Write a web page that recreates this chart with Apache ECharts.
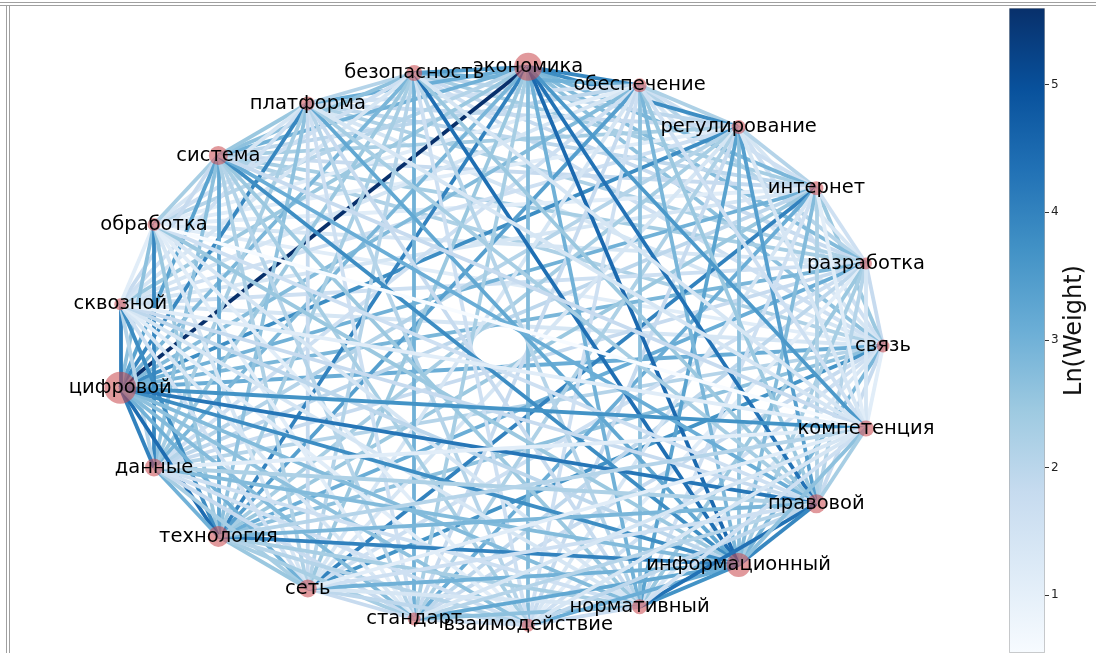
<!DOCTYPE html>
<html>
<head>
<meta charset="utf-8">
<script src="https://cdn.jsdelivr.net/npm/echarts@6/dist/echarts.min.js"></script>
<style>
  html, body { margin: 0; padding: 0; background: #fff; }
  #main { width: 1096px; height: 653px; }
</style>
</head>
<body>
<div id="main"></div>
<script>
// words in the order of the circular layout (counter-clockwise from the right)
var words = ['связь', 'разработка', 'интернет', 'регулирование', 'обеспечение',
  'экономика', 'безопасность', 'платформа', 'система', 'обработка', 'сквозной',
  'цифровой', 'данные', 'технология', 'сеть', 'стандарт', 'взаимодействие',
  'нормативный', 'информационный', 'правовой', 'компетенция'];

// node frequency (marker area)
var nodeFreq = [169, 144, 196, 196, 196, 784, 256, 196, 361, 169, 144,
  1024, 324, 441, 324, 169, 169, 225, 576, 361, 256];

// co-occurrence weights, row i = pairs (i, i+1 .. 20)
var weightRows = [
  [6, 12, 5, 4, 14, 5, 4, 9, 3, 4, 22, 8, 14, 40, 6, 5, 4, 18, 6, 3],
  [5, 4, 8, 16, 6, 9, 10, 4, 5, 18, 6, 22, 5, 7, 3, 12, 10, 8, 4],
  [8, 5, 18, 10, 7, 6, 3, 4, 20, 7, 12, 55, 22, 4, 5, 16, 9, 3],
  [9, 45, 7, 6, 10, 3, 5, 45, 8, 10, 4, 9, 6, 28, 14, 30, 4],
  [50, 20, 5, 7, 3, 4, 16, 5, 30, 4, 6, 5, 14, 18, 12, 5],
  [30, 22, 20, 8, 12, 270, 18, 55, 12, 10, 16, 20, 90, 75, 35],
  [8, 14, 5, 4, 18, 12, 10, 8, 20, 5, 8, 80, 12, 4],
  [12, 4, 5, 50, 10, 14, 6, 5, 8, 6, 25, 10, 4],
  [10, 6, 28, 14, 25, 9, 8, 10, 12, 45, 22, 6],
  [3, 14, 50, 12, 4, 3, 3, 4, 12, 5, 1.73],
  [60, 8, 45, 5, 4, 3, 4, 7, 6, 3],
  [55, 85, 20, 16, 14, 16, 45, 70, 40],
  [20, 10, 6, 5, 5, 16, 9, 3],
  [12, 10, 8, 10, 55, 18, 8],
  [6, 7, 4, 20, 5, 3],
  [5, 14, 25, 8, 4],
  [6, 22, 7, 4],
  [40, 75, 5],
  [50, 14],
  [10]
];

var colorbarTicks = [1, 2, 3, 4, 5];

// matplotlib "Blues"
var bluesStops = ['#f7fbff', '#deebf7', '#c6dbef', '#9ecae1', '#6baed6',
  '#4292c6', '#2171b5', '#08519c', '#08306b'];

function hexRgb(h) {
  return [parseInt(h.substr(1, 2), 16), parseInt(h.substr(3, 2), 16), parseInt(h.substr(5, 2), 16)];
}
function blues(t) {
  t = Math.max(0, Math.min(1, t));
  var p = t * (bluesStops.length - 1);
  var i = Math.min(Math.floor(p), bluesStops.length - 2);
  var f = p - i;
  var a = hexRgb(bluesStops[i]), b = hexRgb(bluesStops[i + 1]);
  var c = a.map(function (v, k) { return Math.round(v + (b[k] - v) * f); });
  return 'rgb(' + c.join(',') + ')';
}

var links = [];
var lnMin = Infinity, lnMax = -Infinity;
weightRows.forEach(function (row, i) {
  row.forEach(function (w, k) {
    var lw = Math.log(w);
    lnMin = Math.min(lnMin, lw);
    lnMax = Math.max(lnMax, lw);
    links.push({ source: i, target: i + 1 + k, lw: lw });
  });
});
links.forEach(function (l) {
  l.lineStyle = { color: blues((l.lw - lnMin) / (lnMax - lnMin)) };
});

var n = words.length;
var nodes = words.map(function (name, i) {
  var a = 2 * Math.PI * i / n;
  return {
    name: name,
    value: [Math.cos(a), Math.sin(a)],
    symbolSize: Math.sqrt(nodeFreq[i])
  };
});

var myChart = echarts.init(document.getElementById('main'));

var gradStops = bluesStops.map(function (c, i) {
  return { offset: 1 - i / (bluesStops.length - 1), color: c };
});

var option = {
  backgroundColor: '#fff',
  animation: false,
  textStyle: { fontFamily: 'DejaVu Sans' },
  grid: [
    { left: 116, width: 767, top: 66, height: 560 },
    { left: 1009, width: 36, top: 8, height: 646 }
  ],
  xAxis: [
    { gridIndex: 0, type: 'value', min: -1, max: 1, show: false },
    { gridIndex: 1, type: 'category', data: [''], show: false }
  ],
  yAxis: [
    { gridIndex: 0, type: 'value', min: -1, max: 1, show: false },
    {
      gridIndex: 1, type: 'value', position: 'right',
      min: lnMin, max: lnMax,
      axisLine: { show: false },
      splitLine: { show: false },
      axisTick: { show: true, length: 4, customValues: colorbarTicks, lineStyle: { color: '#333' } },
      axisLabel: { customValues: colorbarTicks, fontSize: 12, color: '#222', margin: 6 },
      name: 'Ln(Weight)', nameLocation: 'middle', nameRotate: 90, nameGap: 18,
      nameTextStyle: { fontSize: 24, color: '#111' }
    }
  ],
  graphic: [
    { type: 'line', shape: { x1: 0, y1: 2.5, x2: 1096, y2: 2.5 }, style: { stroke: '#a0a0a0', lineWidth: 1 } },
    { type: 'line', shape: { x1: 0, y1: 5.5, x2: 1096, y2: 5.5 }, style: { stroke: '#a0a0a0', lineWidth: 1 } },
    { type: 'line', shape: { x1: 6.5, y1: 5, x2: 6.5, y2: 653 }, style: { stroke: '#a0a0a0', lineWidth: 1 } },
    { type: 'line', shape: { x1: 9.5, y1: 5, x2: 9.5, y2: 653 }, style: { stroke: '#a0a0a0', lineWidth: 1 } }
  ],
  series: [
    {
      type: 'graph',
      layout: 'none',
      coordinateSystem: 'cartesian2d',
      xAxisIndex: 0,
      yAxisIndex: 0,
      silent: true,
      data: nodes,
      links: links,
      itemStyle: { color: 'rgba(200,70,75,0.55)' },
      lineStyle: { width: 3.8, opacity: 1, curveness: 0 },
      label: { show: true, position: 'inside', color: '#000', fontSize: 19.5, fontFamily: 'DejaVu Sans' },
      emphasis: { disabled: true }
    },
    {
      type: 'bar', xAxisIndex: 1, yAxisIndex: 1, stack: 'cb', silent: true,
      barWidth: '100%', data: [lnMin], itemStyle: { color: 'transparent' }
    },
    {
      type: 'bar', xAxisIndex: 1, yAxisIndex: 1, stack: 'cb', silent: true,
      barWidth: '100%', data: [lnMax - lnMin],
      itemStyle: {
        color: new echarts.graphic.LinearGradient(0, 0, 0, 1, gradStops),
        borderColor: 'rgba(0,0,0,0.2)', borderWidth: 1
      }
    }
  ]
};

myChart.setOption(option);
</script>
</body>
</html>
